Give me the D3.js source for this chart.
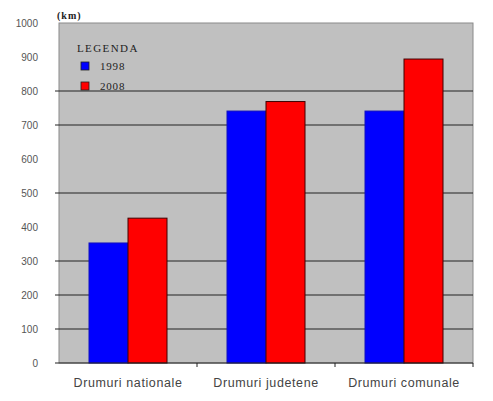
<!DOCTYPE html>
<html><head><meta charset="utf-8">
<script src="https://cdn.jsdelivr.net/npm/d3@7"></script>
<style>body{margin:0;background:#fff}svg{display:block}</style>
</head><body>
<script>
const categories = ["Drumuri nationale", "Drumuri judetene", "Drumuri comunale"];
const seriesNames = ["1998", "2008"];
const values1998 = [353, 741, 741];
const values2008 = [426, 769, 894];
const yTicks = [0, 100, 200, 300, 400, 500, 600, 700, 800, 900, 1000];
const gridValues = [100, 200, 300, 500, 700, 800];
const colors = ["#0000ff", "#ff0000"];

(function () {
const W = 493, H = 401;
const svg = d3.select("body").append("svg").attr("width", W).attr("height", H);
const pl = 59, pr = 473, pt = 23, pb = 363;

const x = d3.scaleBand().domain(categories).range([pl, pr]).paddingInner(0).paddingOuter(0);
const y = d3.scaleLinear().domain([0, 1000]).range([pb, pt]);
const bw = 39;
const xs = d3.scaleBand().domain(seriesNames).range([0, bw * 2]);

// plot area
svg.append("rect").attr("x", pl).attr("y", pt).attr("width", pr - pl).attr("height", pb - pt)
  .attr("fill", "#c0c0c0").attr("stroke", "#8a8a8a").attr("stroke-width", 1);

// gridlines
svg.append("g").selectAll("line").data(gridValues).join("line")
  .attr("x1", pl - 4).attr("x2", pr).attr("y1", d => y(d)).attr("y2", d => y(d))
  .attr("stroke", "#222").attr("stroke-width", 1);

// bars
const data = categories.map((c, i) => ({c, v: [values1998[i], values2008[i]]}));
const g = svg.append("g").selectAll("g").data(data).join("g")
  .attr("transform", d => `translate(${x(d.c) + (x.bandwidth() - bw * 2) / 2},0)`);
g.selectAll("rect").data(d => d.v.map((v, k) => ({v, k}))).join("rect")
  .attr("x", d => xs(seriesNames[d.k])).attr("width", xs.bandwidth())
  .attr("y", d => y(d.v)).attr("height", d => y(0) - y(d.v))
  .attr("fill", d => colors[d.k]).attr("stroke", d => d.k === 0 ? "#1010c0" : "#400000").attr("stroke-width", 1);

// y axis labels
const ya = d3.axisLeft(y).tickValues(yTicks).tickFormat(d3.format("d")).tickSize(0).tickPadding(0);
const yg = svg.append("g").attr("transform", `translate(${38},0)`).call(ya);
yg.select(".domain").remove();
yg.selectAll("text").attr("font-family", "Liberation Sans, Arial, sans-serif").attr("font-size", 10).attr("fill", "#555");

// x axis
const xa = d3.axisBottom(x).tickSize(0).tickPadding(15);
const xg = svg.append("g").attr("transform", `translate(0,${pb})`).call(xa);
xg.select(".domain").attr("stroke", "#222").attr("d", `M${pl - 4},0H${pr}`);
xg.selectAll("text").attr("font-family", "Liberation Sans, Arial, sans-serif").attr("font-size", 12.5)
  .attr("fill", "#444").attr("letter-spacing", 0.6);
// category separator ticks
svg.append("g").selectAll("line").data(categories).join("line")
  .attr("x1", d => x(d) + x.bandwidth()).attr("x2", d => x(d) + x.bandwidth())
  .attr("y1", pb).attr("y2", pb + 4).attr("stroke", "#222");

// unit label
svg.append("text").attr("x", 57).attr("y", 19).text("(km)")
  .attr("font-family", "Liberation Serif, Times New Roman, serif").attr("font-size", 10).attr("font-weight", "bold")
  .attr("letter-spacing", 1).attr("fill", "#222");

// legend
svg.append("text").attr("x", 77).attr("y", 52).text("LEGENDA")
  .attr("font-family", "Liberation Serif, Times New Roman, serif").attr("font-size", 11)
  .attr("letter-spacing", 1.4).attr("fill", "#222");
const lg = svg.append("g").selectAll("g").data(seriesNames).join("g")
  .attr("transform", (d, i) => `translate(81,${62 + i * 20})`);
lg.append("rect").attr("width", 8).attr("height", 8).attr("fill", (d, i) => colors[i]).attr("stroke", "#222").attr("stroke-width", 0.8);
lg.append("text").attr("x", 19).attr("y", 8).text(d => d)
  .attr("font-family", "Liberation Serif, Times New Roman, serif").attr("font-size", 11)
  .attr("letter-spacing", 0.8).attr("fill", "#222");
})();
</script>
</body></html>
